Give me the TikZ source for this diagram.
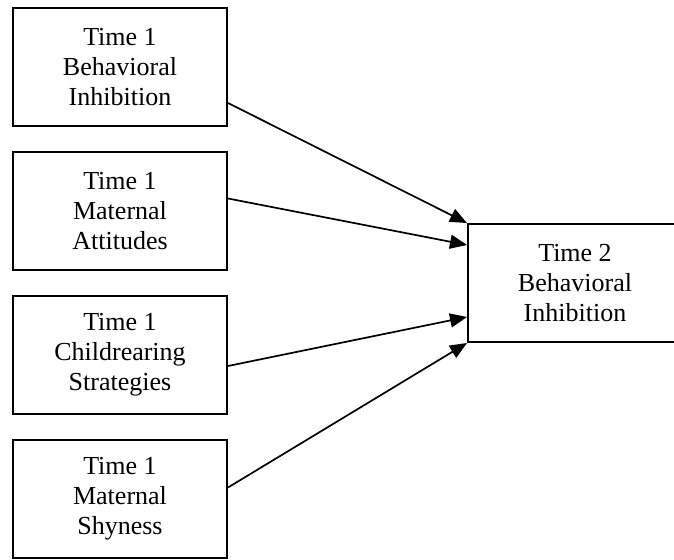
\documentclass[tikz,border=0pt]{standalone}
\usepackage{fontspec}
\setmainfont{Liberation Serif}
\usetikzlibrary{arrows.meta, positioning, calc}

\begin{document}
\begin{tikzpicture}[
      x=1pt, y=1pt,
      node distance=24pt and 239pt,
      box/.style={
        draw, line width=2pt, minimum height=118pt,
        minimum width=214pt, align=center,
        font=\fontsize{26}{30}\selectfont
      },
      arrow/.style={-{Triangle[length=17pt, width=14pt]}, line width=1.7pt}
    ]
    \useasboundingbox (0,0) rectangle (674,559);
    \clip (0,0) rectangle (674,559);
    \node[box] (bi1) at (120,492) {Time 1\\Behavioral\\Inhibition};
    \node[box, below=of bi1] (attitudes) {Time 1\\Maternal\\Attitudes};
    \node[box, below=of attitudes] (strategies) {Time 1\\Childrearing\\Strategies};
    \node[box, below=of strategies] (shyness) {Time 1\\Maternal\\Shyness};
    \coordinate (mid) at ($(attitudes.east)!0.5!(strategies.east)$);
    \node[box, right=of mid] (bi2) {Time 2\\Behavioral\\Inhibition};
    \draw[arrow] ([yshift=-36pt]bi1.east) -- (bi2.north west);
    \draw[arrow] ([yshift=12.5pt]attitudes.east) -- ([yshift=-22pt]bi2.north west);
    \draw[arrow] ([yshift=-11pt]strategies.east) -- ([yshift=26pt]bi2.south west);
    \draw[arrow] ([yshift=11.5pt]shyness.east) -- (bi2.south west);
  \end{tikzpicture}
\end{document}
